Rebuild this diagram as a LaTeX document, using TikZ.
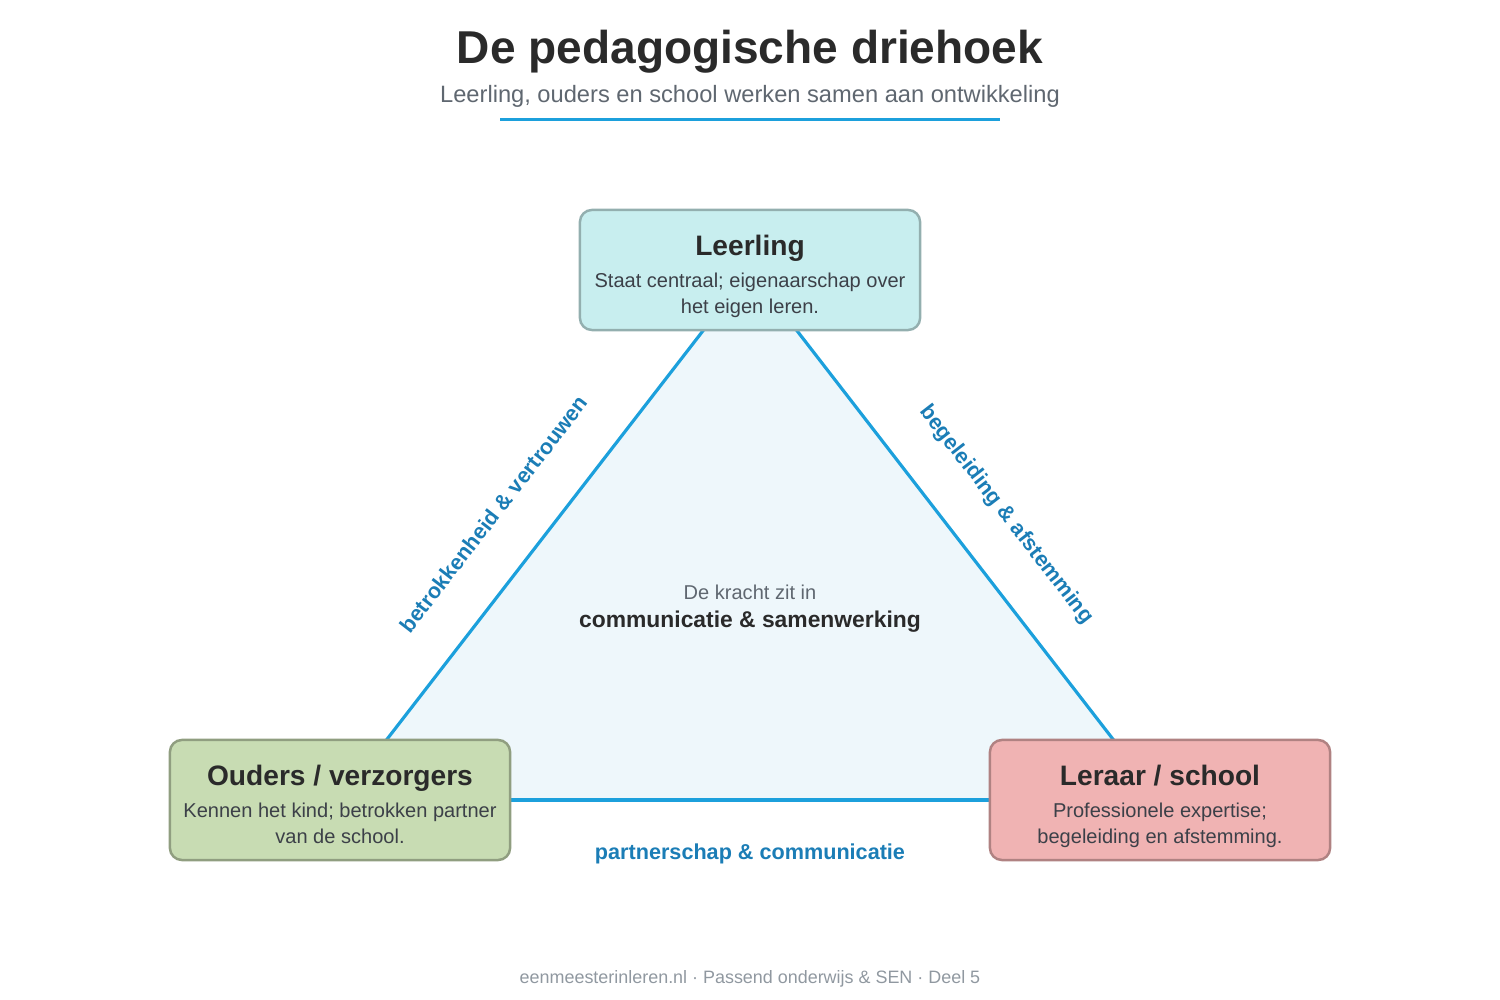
\documentclass[tikz,border=0pt]{standalone}
\usepackage{fontspec}
\setmainfont{Liberation Sans}
\usepackage{tikz}
\usetikzlibrary{backgrounds}
\definecolor{lijnblauw}{HTML}{1CA0DC}
\definecolor{labelblauw}{HTML}{1B7DB6}
\definecolor{vlak}{HTML}{EEF7FB}
\definecolor{inkt}{HTML}{2A2A2A}
\definecolor{grijstekst}{HTML}{5F6770}
\definecolor{omschrijving}{HTML}{3C4048}
\definecolor{voet}{HTML}{9098A0}
\definecolor{leerlingvak}{HTML}{C8EEEF}
\definecolor{leerlingrand}{HTML}{93AFAF}
\definecolor{oudersvak}{HTML}{C8DCB3}
\definecolor{oudersrand}{HTML}{909E80}
\definecolor{leraarvak}{HTML}{F0B3B3}
\definecolor{leraarrand}{HTML}{B08282}
\tikzset{
	blok/.style={draw, line width=0.7pt, rounded corners=0.12cm, minimum width=3.4cm, minimum height=1.2cm, inner sep=0pt},
	kop/.style={anchor=base, inner sep=0pt, text=inkt, font=\fontsize{8pt}{9.6pt}\selectfont\bfseries},
	omschr/.style={anchor=base, inner sep=0pt, align=center, text=omschrijving, font=\fontsize{5.7pt}{7.4pt}\selectfont},
	zijde/.style={line width=0.9pt, color=lijnblauw},
	randlabel/.style={inner sep=0pt, text=labelblauw, font=\fontsize{6.15pt}{7.4pt}\selectfont\bfseries}
}

\begin{document}
\begin{tikzpicture}[x=0.01cm, y=0.01cm]
		%%%%% START %%%%%
		\useasboundingbox (0, 0) rectangle (1500, 1000);
		
		\node[anchor=base, text=inkt, font=\fontsize{13.1pt}{15pt}\selectfont\bfseries] (titel) at (750, 936) {De pedagogische driehoek};
		\node[anchor=base, text=grijstekst, font=\fontsize{6.73pt}{8pt}\selectfont] (ondertitel) at (750, 897) {Leerling, ouders en school werken samen aan ontwikkeling};
		\draw[line width=0.85pt, color=lijnblauw] (500, 880) -- (1000, 880);
		
		\node[blok, fill=leerlingvak, draw=leerlingrand] (leerling) at (750, 730) {};
		\node[kop] (leerlingkop) at (750, 744) {Leerling};
		\node[omschr] (leerlingtekst) at (750, 686) {Staat centraal; eigenaarschap over\\het eigen leren.};
		
		\node[blok, fill=oudersvak, draw=oudersrand] (ouders) at (340, 200) {};
		\node[kop] (ouderskop) at (340, 214) {Ouders / verzorgers};
		\node[omschr] (ouderstekst) at (340, 156) {Kennen het kind; betrokken partner\\van de school.};
		
		\node[blok, fill=leraarvak, draw=leraarrand] (leraar) at (1160, 200) {};
		\node[kop] (leraarkop) at (1160, 214) {Leraar / school};
		\node[omschr] (leraartekst) at (1160, 156) {Professionele expertise;\\begeleiding en afstemming.};
		
		\node[anchor=base, text=grijstekst, font=\fontsize{5.7pt}{7pt}\selectfont] (kracht) at (750, 400) {De kracht zit in};
		\node[anchor=base, text=inkt, font=\fontsize{6.5pt}{8pt}\selectfont\bfseries] (samenwerking) at (750, 372) {communicatie \& samenwerking};
		
		\begin{scope}[on background layer]
			\fill[vlak] (leerling.center) -- (ouders.center) -- (leraar.center) -- cycle;
			\draw[zijde] (ouders.center) -- (leerling.center) node[randlabel, pos=0.478, sloped, above=0.44cm] {betrokkenheid \& vertrouwen};
			\draw[zijde] (leerling.center) -- (leraar.center) node[randlabel, pos=0.523, sloped, above=0.41cm] {begeleiding \& afstemming};
			\draw[zijde] (ouders.center) -- (leraar.center) node[randlabel, midway, below=0.42cm] {partnerschap \& communicatie};
		\end{scope}
		
		\node[anchor=base, text=voet, font=\fontsize{5.1pt}{6pt}\selectfont] (voetregel) at (750, 17) {eenmeesterinleren.nl · Passend onderwijs \& SEN · Deel 5};
		%%%%% END %%%%%
\end{tikzpicture}
\end{document}
